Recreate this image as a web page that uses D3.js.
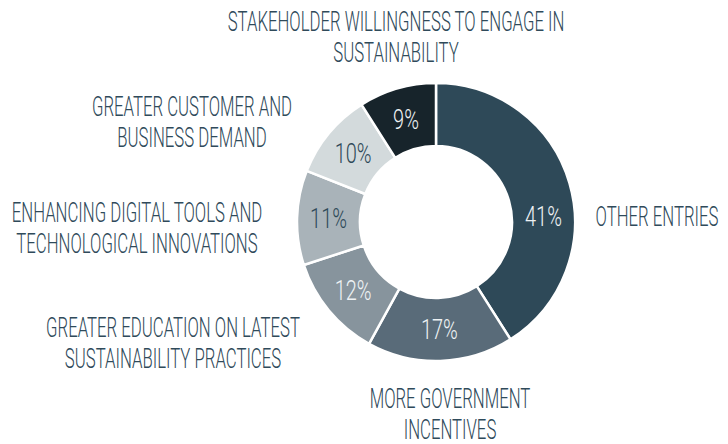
<!DOCTYPE html>
<html>
<head>
<meta charset="utf-8">
<script src="https://cdn.jsdelivr.net/npm/d3@7"></script>
<style>
  body { margin: 0; background: #fff; }
  text { font-family: Roboto, "Liberation Sans Narrow", sans-serif; font-weight: 300; }
</style>
</head>
<body>
<div id="chartDiv"></div>
<script>
// data, clockwise from 12 o'clock
var categories = ["OTHER ENTRIES", "MORE GOVERNMENT INCENTIVES", "GREATER EDUCATION ON LATEST SUSTAINABILITY PRACTICES",
  "ENHANCING DIGITAL TOOLS AND TECHNOLOGICAL INNOVATIONS", "GREATER CUSTOMER AND BUSINESS DEMAND",
  "STAKEHOLDER WILLINGNESS TO ENGAGE IN SUSTAINABILITY"];
var values = [41, 17, 12, 11, 10, 9];
var labelLines = [
  ["OTHER ENTRIES"],
  ["MORE GOVERNMENT", "INCENTIVES"],
  ["GREATER EDUCATION ON LATEST", "SUSTAINABILITY PRACTICES"],
  ["ENHANCING DIGITAL TOOLS AND", "TECHNOLOGICAL INNOVATIONS"],
  ["GREATER CUSTOMER AND", "BUSINESS DEMAND"],
  ["STAKEHOLDER WILLINGNESS TO ENGAGE IN", "SUSTAINABILITY"]
];

var sliceColors = ["#2e4958", "#596b79", "#87949d", "#a9b3b9", "#d3dadc", "#17242b"];
var pctColors = ["#eef2f4", "#eef2f4", "#eef2f4", "#2e4958", "#2e4958", "#eef2f4"];
// where each category label sits (center of the text block)
var labelPos = [[657, 216], [450, 414], [173, 343], [137, 228], [192, 122], [396, 37]];

var width = 728, height = 444,
  cx = 436, cy = 222,
  outerR = 139, innerR = 76,
  squeeze = 0.62, lineH = 30.5;

var svg = d3.select("#chartDiv").append("svg").attr("width", width).attr("height", height);

var pie = d3.pie().sort(null).value(function (d) { return d; });
var arc = d3.arc().innerRadius(innerR).outerRadius(outerR);
var arcs = pie(values);

var g = svg.append("g").attr("transform", "translate(" + cx + "," + cy + ")");

g.selectAll(".slice")
  .data(arcs)
  .enter().append("path")
  .attr("class", "slice")
  .attr("d", arc)
  .attr("fill", function (d, i) { return sliceColors[i]; })
  .attr("stroke", "#fff")
  .attr("stroke-width", 2.5);

// big slices get their label pushed round to the horizontal, like the original
function pctPoint(d) {
  var a = (d.startAngle + d.endAngle) / 2;
  if (d.endAngle - d.startAngle > 2.4) a = Math.PI / 2;
  var r = (innerR + outerR) / 2;
  return [r * Math.sin(a), -r * Math.cos(a) - 6];
}

g.selectAll(".pct")
  .data(arcs)
  .enter().append("g")
  .attr("class", "pct")
  .attr("transform", function (d) {
    var c = (d.endAngle - d.startAngle > 2.4) ? pctPoint(d) : arc.centroid(d);
    return "translate(" + c[0] + "," + c[1] + ") scale(0.74,1)";
  })
  .append("text")
  .attr("text-anchor", "middle")
  .attr("dy", "0.36em")
  .style("font-size", "27px")
  .attr("fill", function (d, i) { return pctColors[i]; })
  .text(function (d) { return d.data + "%"; });

var labels = svg.selectAll(".cat")
  .data(labelLines)
  .enter().append("g")
  .attr("class", "cat")
  .attr("transform", function (d, i) {
    return "translate(" + labelPos[i][0] + "," + labelPos[i][1] + ") scale(" + squeeze + ",1)";
  });

labels.selectAll("text")
  .data(function (d) { return d; })
  .enter().append("text")
  .attr("text-anchor", "middle")
  .attr("y", function (d, i, nodes) { return (i - (nodes.length - 1) / 2) * lineH; })
  .attr("dy", "0.36em")
  .style("font-size", "27px")
  .attr("fill", "#2f4a5a")
  .text(function (d) { return d; });
</script>
</body>
</html>
